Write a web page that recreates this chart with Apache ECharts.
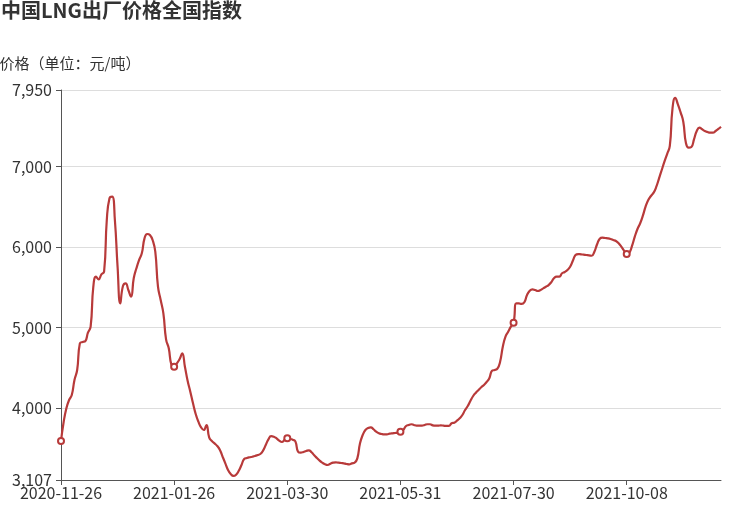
<!DOCTYPE html>
<html>
<head>
<meta charset="utf-8">
<script src="https://cdn.jsdelivr.net/npm/echarts@6/dist/echarts.min.js"></script>
<style>
html,body{margin:0;padding:0;background:#fff;}
#chart{width:729px;height:508px;}
</style>
</head>
<body>
<div id="chart"></div>
<script>
// Trading-day categories, grouped by month
const months = ['2020-11','2020-12','2021-01','2021-02','2021-03','2021-04','2021-05','2021-06','2021-07','2021-08','2021-09','2021-10','2021-11'];
const monthDays = [
  [26,27,30],
  [1,2,3,4,7,8,9,10,11,14,15,16,17,18,21,22,23,24,25,28,29,30,31],
  [4,5,6,7,8,11,12,13,14,15,18,19,20,21,22,25,26,27,28,29],
  [1,2,3,4,5,7,8,9,10,18,19,20,22,23,24,25,26],
  [1,2,3,4,5,8,9,10,11,12,15,16,17,18,19,22,23,24,25,26,29,30,31],
  [1,2,6,7,8,9,12,13,14,15,16,19,20,21,22,23,25,26,27,28,29,30],
  [6,7,8,10,11,12,13,14,17,18,19,20,21,24,25,26,27,28,31],
  [1,2,3,4,7,8,9,10,11,15,16,17,18,21,22,23,24,25,28,29,30],
  [2,5,6,7,8,9,12,13,14,15,16,19,20,21,22,23,26,27,28,29,30],
  [2,3,4,5,6,9,10,11,12,13,16,17,18,19,20,23,24,25,26,27,30,31],
  [1,2,3,6,7,8,9,10,13,14,15,16,17,22,23,24,27,28,29],
  [8,11,12,13,14,15,18,19,20,21,22,25,26,27,28,29],
  [1,2,3,4,5,8,9,10,11,12,15,16,17,18,19,22,23,24,25,26]
];

// 价格（元/吨）
const prices = [
  3591,3831,3997,4100,4162,4349,4473,4804,4821,4830,
  4936,5011,5507,5632,5599,5661,5694,6336,6605,6625,
  6336,5756,5301,5516,5549,5466,5383,5612,5736,5839,
  5922,6108,6162,6149,6087,5942,5507,5342,5177,4854,
  4742,4535,4514,4556,4606,4680,4514,4340,4204,4059,
  3927,3831,3761,3728,3790,3637,3591,3562,3529,3480,
  3396,3314,3231,3182,3157,3173,3222,3293,3368,3380,
  3389,3396,3405,3417,3430,3471,3542,3612,3653,3645,
  3625,3595,3579,3604,3625,3620,3607,3587,3458,3446,
  3455,3467,3476,3451,3414,3380,3347,3322,3302,3293,
  3309,3322,3327,3322,3318,3314,3306,3302,3314,3322,
  3376,3562,3666,3728,3753,3761,3737,3707,3687,3678,
  3674,3674,3682,3687,3691,3695,3707,3728,3774,3790,
  3799,3790,3782,3782,3782,3790,3799,3799,3786,3782,
  3782,3786,3782,3778,3778,3811,3819,3843,3873,3914,
  3976,4026,4092,4150,4191,4225,4258,4287,4324,4370,
  4464,4473,4489,4576,4762,4886,4949,5011,5060,5301,
  5301,5293,5314,5404,5458,5475,5466,5454,5466,5487,
  5507,5528,5562,5612,5632,5632,5674,5690,5715,5756,
  5830,5901,5913,5909,5905,5901,5897,5892,5942,6034,
  6104,6116,6112,6108,6100,6087,6075,6046,6004,5955,
  5913,5930,6017,6129,6224,6295,6389,6501,6584,6634,
  6675,6749,6853,6957,7060,7155,7255,7723,7854,7772,
  7673,7556,7288,7234,7242,7341,7441,7482,7462,7441,
  7428,7420,7420,7441,7466,7494
];

const yMin = 3107;
const yMax = 7950;

const dates = [];
months.forEach(function (m, k) {
  monthDays[k].forEach(function (d) {
    dates.push(m + '-' + (d < 10 ? '0' + d : '' + d));
  });
});

const FONT = '"Noto Sans CJK SC", "Noto Sans", sans-serif';
const chart = echarts.init(document.getElementById('chart'), null, {renderer: 'canvas'});
chart.setOption({
  animation: false,
  title: {
    text: '中国LNG出厂价格全国指数',
    left: 0,
    top: 0,
    padding: [0, 0, 0, 1],
    textStyle: {fontSize: 20, fontWeight: 'bold', color: '#333', fontFamily: FONT}
  },
  grid: {left: 61, right: 8, top: 90, bottom: 28, containLabel: false, outerBoundsMode: 'none'},
  xAxis: {
    type: 'category',
    boundaryGap: false,
    data: dates,
    axisLine: {lineStyle: {color: '#555', width: 1}},
    axisTick: {show: true, interval: 41, length: 5, lineStyle: {color: '#555'}},
    axisLabel: {interval: 41, fontSize: 16, color: '#333', margin: 5, fontFamily: FONT}
  },
  yAxis: {
    type: 'value',
    min: yMin,
    max: yMax,
    name: '价格（单位：元/吨）',
    nameLocation: 'end',
    nameGap: 19,
    nameTextStyle: {fontSize: 15, color: '#333', fontFamily: FONT, align: 'center', padding: [0, 0, 0, 18]},
    axisLine: {show: true, lineStyle: {color: '#555', width: 1}},
    axisTick: {show: true, length: 5, lineStyle: {color: '#555'}},
    axisLabel: {fontSize: 16, color: '#333', margin: 9, fontFamily: FONT,
      formatter: function (v) { return v.toLocaleString('en-US'); }},
    splitLine: {lineStyle: {color: '#ddd'}}
  },
  series: [{
    type: 'line',
    data: prices,
    smooth: true,
    symbol: 'emptyCircle',
    symbolSize: 6,
    lineStyle: {color: '#b83a3a', width: 2.2},
    itemStyle: {color: '#b83a3a', borderColor: '#b83a3a'}
  }]
});
</script>
</body>
</html>
